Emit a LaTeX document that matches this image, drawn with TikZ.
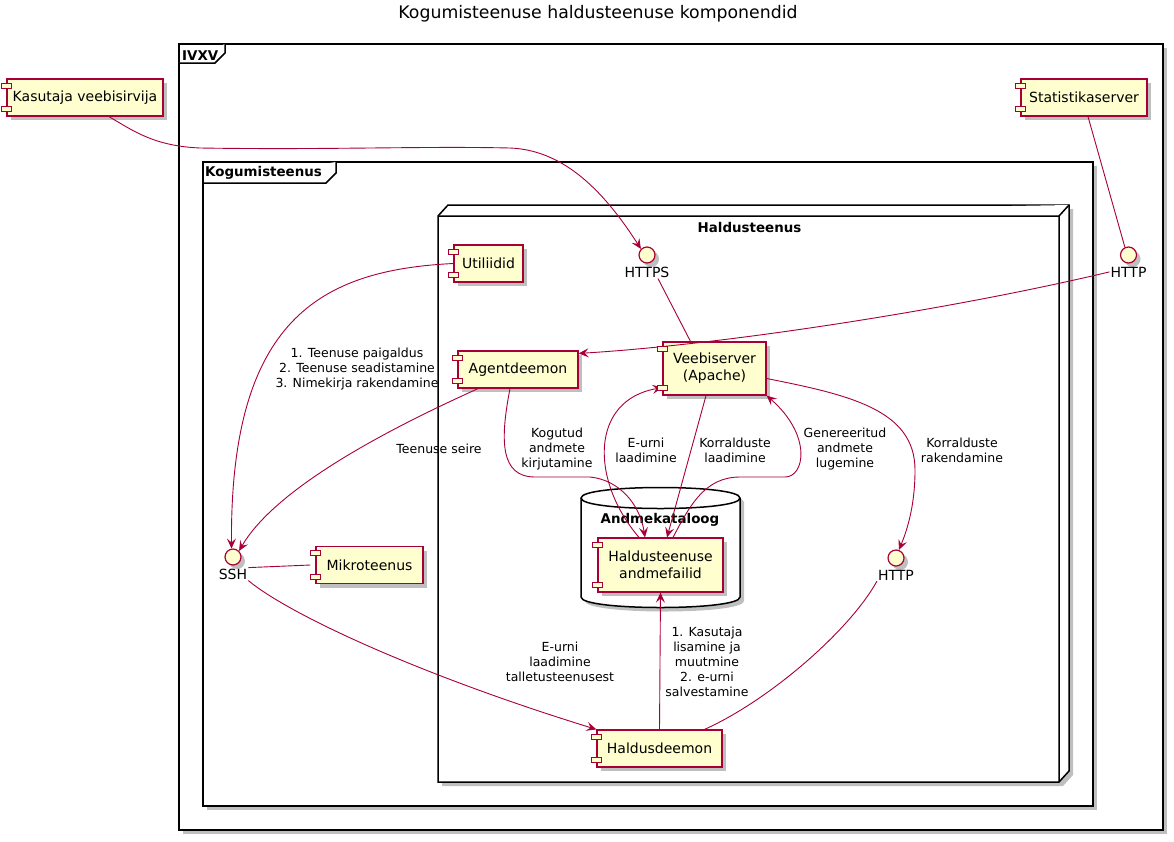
\documentclass[tikz,border=0pt]{standalone}
\usepackage{fontspec}
\setmainfont{DejaVu Sans}
\usetikzlibrary{arrows.meta,shadows,positioning}

\definecolor{umlred}{HTML}{A80036}
\definecolor{umlfill}{HTML}{FEFECE}

\tikzset{
	frame/.style={draw=black, line width=1.5pt, fill=white},
	shade4/.style={drop shadow={shadow xshift=4pt, shadow yshift=-4pt, opacity=0.25, fill=black}},
	comp/.style={draw=umlred, fill=umlfill, line width=1.2pt, inner sep=0pt, minimum height=37pt, align=center, font=\fontsize{14}{17}\selectfont, shade4},
	iface/.style={circle, draw=umlred, fill=umlfill, line width=1.2pt, inner sep=0pt, minimum size=16pt, shade4},
	ilbl/.style={inner sep=1pt, font=\fontsize{14}{17}\selectfont},
	lbl/.style={align=center, inner sep=0pt, font=\fontsize{12.5}{15}\selectfont},
	ttl/.style={inner sep=0pt, font=\bfseries\fontsize{13.4}{16}\selectfont},
	link/.style={draw=umlred, line width=0.9pt},
	arr/.style={link, -{Stealth[length=10pt, width=9pt, inset=4pt]}},
	icon/.style={draw=umlred, fill=umlfill, line width=0.9pt}
}

% the two small tabs on the left side of a component
\newcommand\compicon[1]{%
	\draw[icon] ([xshift=-5pt,yshift=-5pt]#1.north west) rectangle ++(10pt,-5pt);
	\draw[icon] ([xshift=-5pt,yshift=5pt]#1.south west) rectangle ++(10pt,5pt);
}

\begin{document}
\begin{tikzpicture}[x=1pt, y=-1pt]
		\useasboundingbox (0,0) rectangle (1174,841);

		% Title
		\node[anchor=base, inner sep=0pt, font=\fontsize{17.3}{20}\selectfont] (title) at (598,18) {Kogumisteenuse haldusteenuse komponendid};

		% Frames
		\draw[frame, shade4] (179,44) rectangle (1163,830);
		\draw[frame] (179,63) -- (215,63) -- (225,53) -- (225,44);
		\node[ttl, anchor=base west] (ivxv) at (182,60) {IVXV};

		\draw[frame, shade4] (203,162) rectangle (1093,806);
		\draw[frame] (203,183) -- (326,183) -- (336,173) -- (336,162);
		\node[ttl, anchor=base west] (kogu) at (205,176) {Kogumisteenus};

		% Haldusteenus node (3D box)
		\draw[frame, shade4] (438,216) -- (448,205) -- (1069,205) -- (1069,771) -- (1059,782) -- (438,782) -- cycle;
		\draw[frame] (438,216) -- (1059,216) -- (1069,205) (1059,216) -- (1059,782);
		\node[ttl, anchor=base] (haldus) at (749.5,232) {Haldusteenus};

		% Andmekataloog (database)
		\draw[frame, shade4] (581,498) -- (581,597) .. controls (581,611) and (740,611) .. (740,597) -- (740,498) .. controls (740,484) and (581,484) .. cycle;
		\draw[frame, fill=none] (581,498) .. controls (581,512) and (740,512) .. (740,498);
		\node[ttl, anchor=base] (kataloog) at (660,523) {Andmekataloog};

		% Components
		\node[comp, minimum width=156pt] (kasutaja) at (85,97.5) {Kasutaja veebisirvija};
		\node[comp, minimum width=126pt] (stat) at (1084,97.5) {Statistikaserver};
		\node[comp, minimum width=69pt] (util) at (488.5,263.5) {Utiliidid};
		\node[comp, minimum width=120pt] (agent) at (518,369.5) {Agentdeemon};
		\node[comp, minimum width=103pt, minimum height=53pt] (veeb) at (714.5,368.5) {Veebiserver\\(Apache)};
		\node[comp, minimum width=125pt, minimum height=54pt] (fail) at (660.5,565) {Haldusteenuse\\andmefailid};
		\node[comp, minimum width=107pt] (mikro) at (369.5,565) {Mikroteenus};
		\node[comp, minimum width=125pt] (haldd) at (659.5,748.5) {Haldusdeemon};

		% Interfaces
		\node[iface] (httpsc) at (647,255) {};
		\node[ilbl, below=2pt of httpsc] (httpsl) {HTTPS};
		\node[iface] (httprc) at (1128.5,255) {};
		\node[ilbl, below=2pt of httprc] (httprl) {HTTP};
		\node[iface] (sshc) at (233,557) {};
		\node[ilbl, below=2pt of sshc] (sshl) {SSH};
		\node[iface] (httplc) at (896,558) {};
		\node[ilbl, below=2pt of httplc] (httpll) {HTTP};

		% Connections
		\draw[arr] ([xshift=24pt]kasutaja.south) .. controls (135,132) and (155,146) .. (200,148) .. controls (330,150) and (420,146) .. (510,148) .. controls (560,150) and (600,185) .. (httpsc.north west);
		\draw[link] ([xshift=4pt]stat.south) -- (httprc.115);
		\draw[arr] (httprl.west) .. controls (950,310) and (720,345) .. ([yshift=-3pt]agent.north east);
		\draw[link] ([xshift=11pt]httpsl.south) -- ([xshift=-24pt]veeb.north);
		\draw[arr] (util.west) .. controls (320,270) and (230,320) .. (sshc.100);
		\draw[arr] ([xshift=-40pt]agent.south) .. controls (420,415) and (280,480) .. (sshc.north east);
		\draw[arr] ([xshift=-8pt]agent.south) .. controls (500,440) and (500,477) .. (535,477) -- (590,477) .. controls (620,480) and (640,505) .. ([xshift=-15.5pt]fail.north);
		\draw[arr] ([xshift=-21.5pt]fail.north) .. controls (590,480) and (590,400) .. ([yshift=8pt]veeb.south west);
		\draw[arr] ([xshift=-8.5pt]veeb.south) -- ([xshift=6.5pt]fail.north);
		\draw[arr] ([xshift=12.5pt]fail.north) .. controls (690,505) and (705,477) .. (740,477) -- (785,477) .. controls (805,477) and (812,435) .. (veeb.south east);
		\draw[arr] ([yshift=-10pt]veeb.east) .. controls (850,395) and (915,410) .. (915,470) .. controls (915,510) and (905,535) .. (httplc.70);
		\draw[link] (sshl.north east) -- ([xshift=-5pt]mikro.west);
		\draw[arr] (sshl.south east) .. controls (290,615) and (420,675) .. (haldd.north west);
		\draw[arr] (haldd.north) -- (fail.south);
		\draw[link] (httpll.south west) .. controls (850,630) and (770,700) .. ([xshift=45pt]haldd.north);

		% Component tabs
		\compicon{kasutaja}
		\compicon{stat}
		\compicon{util}
		\compicon{agent}
		\compicon{veeb}
		\compicon{fail}
		\compicon{mikro}
		\compicon{haldd}

		% Connection labels
		\node[lbl] (linst) at (357,369) {1. Teenuse paigaldus\\2. Teenuse seadistamine\\3. Nimekirja rakendamine};
		\node[lbl] (lseire) at (439,449) {Teenuse seire};
		\node[lbl] (lkogutud) at (557,449) {Kogutud\\andmete\\kirjutamine};
		\node[lbl] (leurni) at (646,450.5) {E-urni\\laadimine};
		\node[lbl] (lkorr) at (735,450.5) {Korralduste\\laadimine};
		\node[lbl] (lgen) at (845,449) {Genereeritud\\andmete\\lugemine};
		\node[lbl] (lrak) at (962,450.5) {Korralduste\\rakendamine};
		\node[lbl] (ltallet) at (560,662) {E-urni\\laadimine\\talletusteenusest};
		\node[lbl] (lkasut) at (707,662) {1. Kasutaja\\lisamine ja\\muutmine\\2. e-urni\\salvestamine};
	\end{tikzpicture}
\end{document}
